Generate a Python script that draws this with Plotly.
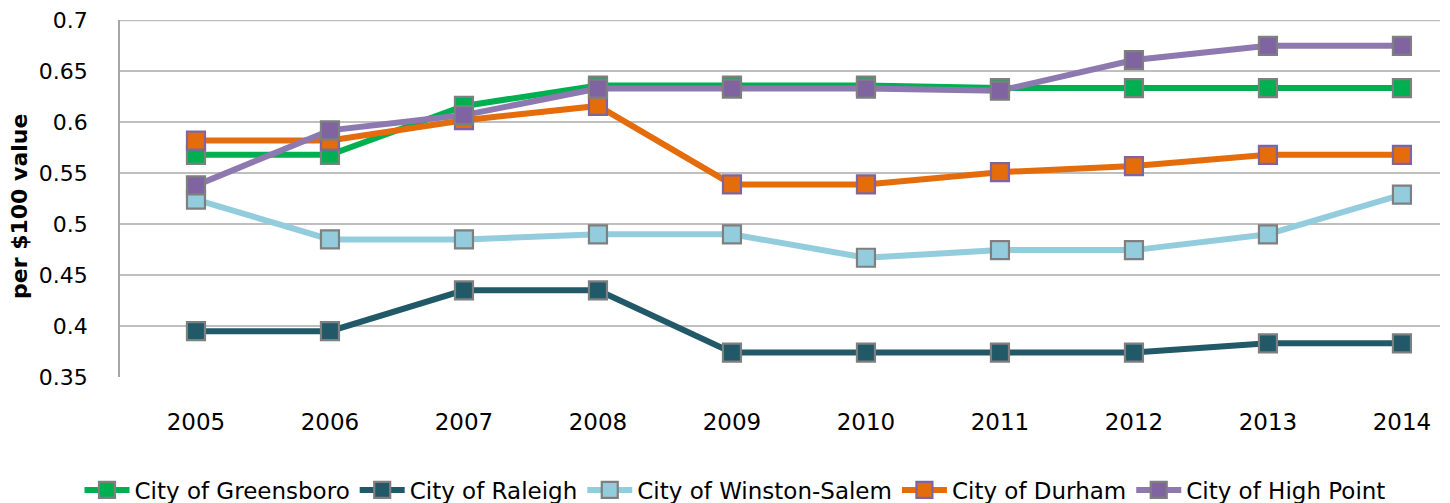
import plotly.graph_objects as go

years = [2005, 2006, 2007, 2008, 2009, 2010, 2011, 2012, 2013, 2014]
greensboro = [0.568, 0.568, 0.616, 0.636, 0.636, 0.636, 0.6335, 0.6335, 0.6335, 0.6335]
raleigh = [0.395, 0.395, 0.435, 0.435, 0.374, 0.374, 0.374, 0.374, 0.383, 0.383]
winston_salem = [0.524, 0.485, 0.485, 0.490, 0.490, 0.467, 0.4745, 0.4745, 0.490, 0.529]
durham = [0.582, 0.582, 0.602, 0.616, 0.539, 0.539, 0.551, 0.557, 0.568, 0.568]
high_point = [0.538, 0.592, 0.607, 0.633, 0.633, 0.633, 0.631, 0.661, 0.675, 0.675]
y_ticks = [0.35, 0.4, 0.45, 0.5, 0.55, 0.6, 0.65, 0.7]
y_tick_labels = ["0.35", "0.4", "0.45", "0.5", "0.55", "0.6", "0.65", "0.7"]

series = [
    ("City of Greensboro", greensboro, "#00B050", "#00B050", "#7F7F7F"),
    ("City of Raleigh", raleigh, "#215968", "#215968", "#7F7F7F"),
    ("City of Winston-Salem", winston_salem, "#93CDDD", "#93CDDD", "#7F7F7F"),
    ("City of Durham", durham, "#E46C0A", "#E46C0A", "#8064A2"),
    ("City of High Point", high_point, "#8E78B0", "#8064A2", "#7F7F7F"),
]

fig = go.Figure()
for name, vals, lc, mc, bc in series:
    fig.add_trace(go.Scatter(
        x=years, y=vals, name=name, mode="lines+markers",
        line=dict(color=lc, width=6),
        marker=dict(symbol="square", size=18, color=mc, line=dict(color=bc, width=2.2)),
    ))

# page has an 8px body margin; figure sized to fill the rest of the 1450x503 view
W, H = 1442, 495
plot_left, plot_top, plot_right, plot_bottom = 112, 12, 1432, 369
font_family = "'DejaVu Sans', sans-serif"
fig.update_layout(
    width=W, height=H,
    margin=dict(l=plot_left, r=W - plot_right, t=plot_top, b=H - plot_bottom),
    paper_bgcolor="white", plot_bgcolor="white",
    font=dict(family=font_family, size=22, color="#000000"),
    showlegend=True,
    legend=dict(orientation="h", x=727 / W, xref="container", xanchor="center",
                y=1 - 482 / H, yref="container", yanchor="middle",
                font=dict(size=23), itemwidth=45, tracegroupgap=0,
                bgcolor="rgba(0,0,0,0)"),
    xaxis=dict(
        range=[2004.433, 2014.284], tickvals=years, ticktext=[str(y) for y in years],
        showgrid=False, zeroline=False, showline=False, ticks="", automargin=False,
        ticklabelstandoff=29, tickfont=dict(size=23),
    ),
    yaxis=dict(
        range=[0.35, 0.7003], tickvals=y_ticks, ticktext=y_tick_labels,
        showgrid=True, gridcolor="#BFBFBF", gridwidth=2, zeroline=False,
        showline=True, linecolor="#A6A6A6", linewidth=1.5, ticks="", automargin=False,
        ticklabelstandoff=26, tickfont=dict(size=22),
    ),
    shapes=[dict(type="line", xref="paper", yref="y", x0=0, x1=1,
                 y0=y_ticks[-1], y1=y_ticks[-1], layer="below",
                 line=dict(color="#BFBFBF", width=2))],
    annotations=[dict(
        text="<b>per $100 value</b>", textangle=-90, showarrow=False,
        xref="paper", yref="paper",
        x=-(plot_left - 11) / (plot_right - plot_left),
        y=(plot_bottom - 199) / (plot_bottom - plot_top),
        xanchor="center", yanchor="middle", font=dict(size=22),
    )],
)

fig.write_html("out.html")
